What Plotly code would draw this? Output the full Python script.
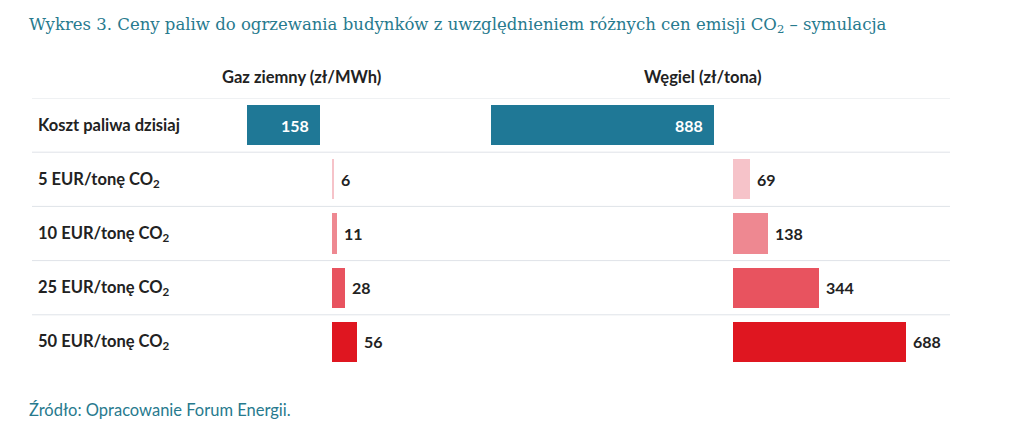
import plotly.graph_objects as go

W, H = 1024, 424

categories = ["Koszt paliwa dzisiaj", "5 EUR/tonę CO<sub>2</sub>", "10 EUR/tonę CO<sub>2</sub>",
              "25 EUR/tonę CO<sub>2</sub>", "50 EUR/tonę CO<sub>2</sub>"]
gas_base = 158
coal_base = 888
gas_add = [6, 11, 28, 56]
coal_add = [69, 138, 344, 688]
add_colors = ["#f6c3c9", "#ee8891", "#e8535f", "#df1620"]
base_color = "#1f7896"
teal_text = "#277a8e"
dark = "#222222"

title = "Wykres 3. Ceny paliw do ogrzewania budynków z uwzględnieniem różnych cen emisji CO<sub>2</sub> – symulacja"
source = "Źródło: Opracowanie Forum Energii."
gas_header = "Gaz ziemny (zł/MWh)"
coal_header = "Węgiel (zł/tona)"

# layout (pixels)
gas_px = (247, 480)
coal_px = (491, 960)
gas_scale = 0.46      # px per unit
coal_scale = 0.251
gap_px_gas = 12
gap_px_coal = 19
plot_top, plot_bot = 98, 369

gas_range = [0, (gas_px[1] - gas_px[0]) / gas_scale]
coal_range = [0, (coal_px[1] - coal_px[0]) / coal_scale]
gas_gap = gap_px_gas / gas_scale
coal_gap = gap_px_coal / coal_scale

font = "Lato, 'Open Sans', sans-serif"
fig = go.Figure()

# base bars
for xa, val in (("x", gas_base), ("x2", coal_base)):
    fig.add_trace(go.Bar(
        y=[categories[0]], x=[val], orientation="h", xaxis=xa, yaxis="y",
        marker=dict(color=base_color, line=dict(width=0)), width=0.74,
        hoverinfo="skip", cliponaxis=False))

# increments
for xa, base, gap, vals in (("x", gas_base, gas_gap, gas_add), ("x2", coal_base, coal_gap, coal_add)):
    fig.add_trace(go.Bar(
        y=categories[1:], x=vals, base=[base + gap] * len(vals),
        orientation="h", xaxis=xa, yaxis="y",
        marker=dict(color=add_colors, line=dict(width=0)), width=0.74,
        hoverinfo="skip", cliponaxis=False))

shapes = []
for i in range(len(categories)):
    shapes.append(dict(type="line", xref="paper", yref="y",
                       x0=32 / W, x1=950 / W, y0=i - 0.5, y1=i - 0.5,
                       line=dict(color="#dfe3e8", width=1), layer="below"))

annotations = []
# value labels
for xa, val in (("x", gas_base), ("x2", coal_base)):
    annotations.append(dict(text=str(val), x=val, xref=xa, y=categories[0], yref="y",
                            xanchor="right", yanchor="middle", xshift=-9, showarrow=False,
                            font=dict(family=font, size=16, color="white", weight="bold")))
for xa, base, gap, vals in (("x", gas_base, gas_gap, gas_add), ("x2", coal_base, coal_gap, coal_add)):
    for c, v in zip(categories[1:], vals):
        annotations.append(dict(text=str(v), x=base + gap + v, xref=xa, y=c, yref="y",
                                xanchor="left", yanchor="middle", xshift=5, showarrow=False,
                                font=dict(family=font, size=16, color=dark, weight="bold")))

for c in categories:
    annotations.append(dict(text=c, x=36 / W, xref="paper", xanchor="left",
                            y=c, yref="y", yanchor="middle", showarrow=False,
                            font=dict(family=font, size=16.5, color=dark, weight="bold")))
annotations.append(dict(text=gas_header, x=301 / W, y=1 - 77 / H, xref="paper", yref="paper",
                        xanchor="center", yanchor="middle", showarrow=False,
                        font=dict(family=font, size=16.5, color=dark, weight="bold")))
annotations.append(dict(text=coal_header, x=702 / W, y=1 - 77 / H, xref="paper", yref="paper",
                        xanchor="center", yanchor="middle", showarrow=False,
                        font=dict(family=font, size=16.5, color=dark, weight="bold")))
annotations.append(dict(text=title, x=27 / W, y=1 - 25 / H, xref="paper", yref="paper",
                        xanchor="left", yanchor="middle", showarrow=False,
                        font=dict(family="'DejaVu Serif', serif", size=16.5, color=teal_text)))
annotations.append(dict(text=source, x=27 / W, y=1 - 410 / H, xref="paper", yref="paper",
                        xanchor="left", yanchor="middle", showarrow=False,
                        font=dict(family=font, size=16.5, color=teal_text)))

fig.update_layout(
    width=W, height=H, margin=dict(l=0, r=0, t=0, b=0),
    paper_bgcolor="white", plot_bgcolor="white", showlegend=False,
    barmode="overlay", bargap=0,
    xaxis=dict(domain=[gas_px[0] / W, gas_px[1] / W], range=gas_range, visible=False, fixedrange=True),
    xaxis2=dict(domain=[coal_px[0] / W, coal_px[1] / W], range=coal_range, visible=False, fixedrange=True),
    yaxis=dict(domain=[1 - plot_bot / H, 1 - plot_top / H], type="category",
               categoryorder="array", categoryarray=categories,
               range=[len(categories) - 0.5, -0.5], visible=False, fixedrange=True),
    shapes=shapes, annotations=annotations,
)

fig.write_html("out.html")
